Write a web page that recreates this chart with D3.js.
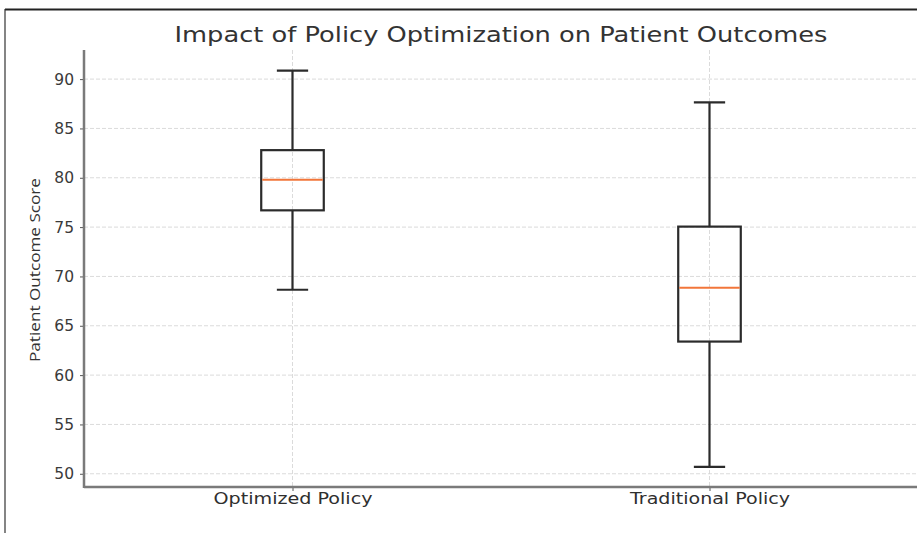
<!DOCTYPE html>
<html>
<head>
<meta charset="utf-8">
<script src="https://cdn.jsdelivr.net/npm/d3@7"></script>
<style>
  body { margin: 0; background: #fff; }
  svg { display: block; font-family: "DejaVu Sans", sans-serif; }
</style>
</head>
<body>
<div id="app"></div>
<script>
// values
const groups = ["Optimized Policy", "Traditional Policy"]
const whiskerLow = [68.65, 50.7]
const q1 = [76.7, 63.4]
const medians = [79.8, 68.85]
const q3 = [82.8, 75.05]
const whiskerHigh = [90.85, 87.65]
const yTicks = [50, 55, 60, 65, 70, 75, 80, 85, 90]

const width = 917, height = 533
const margin = {left: 84, right: -1, top: 50, bottom: 46}

const svg = d3.select('#app').append('svg')
    .attr('width', width)
    .attr('height', height)

// screenshot frame
svg.append('line').attr('x1', 5).attr('x2', width).attr('y1', 9.5).attr('y2', 9.5)
    .attr('stroke', '#222').attr('stroke-width', 2)
svg.append('line').attr('x1', 5).attr('x2', 5).attr('y1', 9).attr('y2', height)
    .attr('stroke', '#333').attr('stroke-width', 1.2)

const xScale = d3.scaleLinear().domain([0.5, 2.5]).range([margin.left, width - margin.right])
const yScale = d3.scaleLinear().domain([48.66, 92.95]).range([height - margin.bottom, margin.top])

const data = groups.map((g, i) => ({
    name: g, pos: i + 1,
    lo: whiskerLow[i], q1: q1[i], med: medians[i], q3: q3[i], hi: whiskerHigh[i]
}))

// grid
svg.append('g').selectAll('line')
    .data(yTicks).enter().append('line')
    .attr('x1', margin.left).attr('x2', width)
    .attr('y1', d => yScale(d)).attr('y2', d => yScale(d))
    .attr('stroke', '#d2d2d2').attr('stroke-width', 0.8)
    .attr('stroke-dasharray', '4,2')
svg.append('g').selectAll('line')
    .data(data).enter().append('line')
    .attr('x1', d => xScale(d.pos)).attr('x2', d => xScale(d.pos))
    .attr('y1', margin.top).attr('y2', height - margin.bottom)
    .attr('stroke', '#d2d2d2').attr('stroke-width', 0.8)
    .attr('stroke-dasharray', '4,2')

// boxes
const boxW = xScale(0.5 + 0.15) - xScale(0.5)
const capW = boxW / 2
const lineColor = '#2b2b2b', lw = 2.2
const boxes = svg.append('g').selectAll('g')
    .data(data).enter().append('g')

boxes.append('line')
    .attr('x1', d => xScale(d.pos)).attr('x2', d => xScale(d.pos))
    .attr('y1', d => yScale(d.q3)).attr('y2', d => yScale(d.hi))
    .attr('stroke', lineColor).attr('stroke-width', lw)
boxes.append('line')
    .attr('x1', d => xScale(d.pos)).attr('x2', d => xScale(d.pos))
    .attr('y1', d => yScale(d.q1)).attr('y2', d => yScale(d.lo))
    .attr('stroke', lineColor).attr('stroke-width', lw)
boxes.selectAll('line.cap')
    .data(d => [[d.pos, d.lo], [d.pos, d.hi]]).enter().append('line')
    .attr('class', 'cap')
    .attr('x1', d => xScale(d[0]) - capW / 2).attr('x2', d => xScale(d[0]) + capW / 2)
    .attr('y1', d => yScale(d[1])).attr('y2', d => yScale(d[1]))
    .attr('stroke', lineColor).attr('stroke-width', lw)
boxes.append('rect')
    .attr('x', d => xScale(d.pos) - boxW / 2)
    .attr('y', d => yScale(d.q3))
    .attr('width', boxW)
    .attr('height', d => yScale(d.q1) - yScale(d.q3))
    .attr('fill', 'none')
    .attr('stroke', lineColor).attr('stroke-width', lw)
boxes.append('line')
    .attr('x1', d => xScale(d.pos) - boxW / 2 + 1).attr('x2', d => xScale(d.pos) + boxW / 2 - 1)
    .attr('y1', d => yScale(d.med)).attr('y2', d => yScale(d.med))
    .attr('stroke', '#f2763a').attr('stroke-width', 2)

// axes
const yAxis = svg.append('g').attr('transform', `translate(${margin.left},0)`)
    .call(d3.axisLeft(yScale).tickValues(yTicks).tickSize(4).tickPadding(6))
yAxis.select('.domain').remove()
yAxis.selectAll('.tick line').attr('stroke', '#555')
yAxis.selectAll('.tick text').attr('fill', '#3a3a3a').style('font-size', '15.5px')
    .style('font-family', '"DejaVu Sans", sans-serif')

const xAxis = svg.append('g').attr('transform', `translate(0,${height - margin.bottom})`)
    .call(d3.axisBottom(xScale).tickValues([1, 2]).tickFormat((d, i) => groups[i]).tickSize(4).tickPadding(2))
xAxis.select('.domain').remove()
xAxis.selectAll('.tick line').attr('stroke', '#555')
xAxis.selectAll('.tick text').attr('fill', '#2f2f2f').style('font-size', '15.5px')
    .style('font-family', '"DejaVu Sans", sans-serif')
    .attr('textLength', (d, i) => i == 0 ? 159 : 160)
    .attr('lengthAdjust', 'spacingAndGlyphs')

// spines
svg.append('line').attr('x1', margin.left).attr('x2', margin.left)
    .attr('y1', margin.top).attr('y2', height - margin.bottom + 1)
    .attr('stroke', '#7a7a7a').attr('stroke-width', 2.5)
svg.append('line').attr('x1', margin.left).attr('x2', width)
    .attr('y1', height - margin.bottom).attr('y2', height - margin.bottom)
    .attr('stroke', '#7a7a7a').attr('stroke-width', 2.5)

// labels
svg.append('text')
    .attr('x', (margin.left + width - margin.right) / 2)
    .attr('y', 42)
    .attr('text-anchor', 'middle')
    .attr('fill', '#333')
    .style('font-size', '21px')
    .attr('textLength', 653)
    .attr('lengthAdjust', 'spacingAndGlyphs')
    .text('Impact of Policy Optimization on Patient Outcomes')

svg.append('text')
    .attr('transform', `translate(40,${(178 + 362) / 2}) rotate(-90)`)
    .attr('text-anchor', 'middle')
    .attr('fill', '#333')
    .style('font-size', '14px')
    .style('font-family', '"Open Sans", sans-serif')
    .attr('textLength', 184)
    .attr('lengthAdjust', 'spacingAndGlyphs')
    .text('Patient Outcome Score')
</script>
</body>
</html>
